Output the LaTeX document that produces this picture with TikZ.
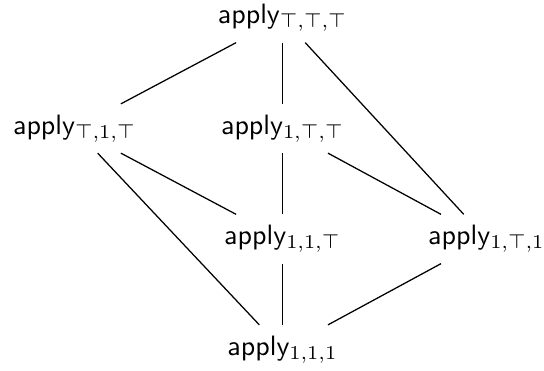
\documentclass[tikz,border=0pt]{standalone}
\begin{document}
\begin{tikzpicture}[x=0.357pt,y=-0.357pt,
  lbl/.style={inner sep=3.7pt, font=\sffamily},
  edge/.style={line width=0.45pt, black}]
\useasboundingbox (0,0) rectangle (544,371);
\node[lbl] (ttt) at (282.5,18)   {apply$_{\top,\top,\top}$};
\node[lbl] (t1t) at (74.5,128.5) {apply$_{\top,1,\top}$};
\node[lbl] (1tt) at (282.5,128.5){apply$_{1,\top,\top}$};
\node[lbl] (11t) at (282.5,239)  {apply$_{1,1,\top}$};
\node[lbl] (1t1) at (486.5,239)  {apply$_{1,\top,1}$};
\node[lbl] (111) at (282.5,349.5){apply$_{1,1,1}$};
\draw[edge] (ttt) -- (t1t);
\draw[edge] (ttt) -- (1tt);
\draw[edge] (ttt) -- (1t1);
\draw[edge] (t1t) -- (11t);
\draw[edge] (t1t) -- (111);
\draw[edge] (1tt) -- (11t);
\draw[edge] (1tt) -- (1t1);
\draw[edge] (11t) -- (111);
\draw[edge] (1t1) -- (111);
\end{tikzpicture}
\end{document}
